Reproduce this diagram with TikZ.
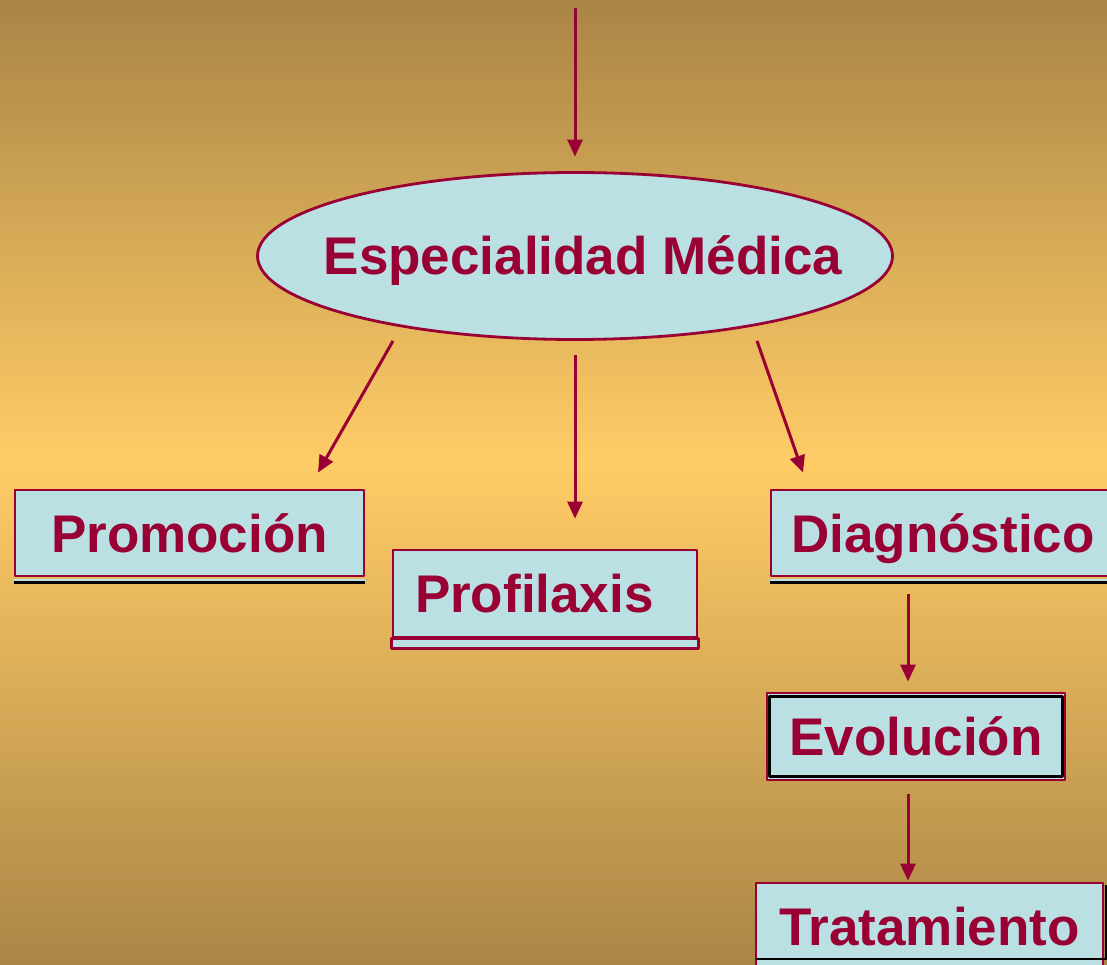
\documentclass[tikz,border=0pt]{standalone}
\usepackage{fontspec}
\setmainfont{Liberation Sans}
\usetikzlibrary{arrows.meta,shapes.geometric}
\definecolor{granate}{HTML}{990033}
\definecolor{celeste}{HTML}{BBE0E3}
\definecolor{oroosc}{HTML}{A98546}
\definecolor{oroclaro}{HTML}{FFCC66}
\tikzset{
  caja/.style={draw=granate, fill=celeste, line width=2.8pt, inner sep=0pt,
    text=granate, font=\bfseries\fontsize{53}{60}\selectfont,
    text height=38pt, text depth=0pt},
  elipse/.style={caja, ellipse, minimum width=635pt, minimum height=167pt},
  flecha/.style={draw=granate, line width=3pt, -{Triangle[length=17pt,width=15pt]}}
}
\begin{document}
\begin{tikzpicture}[x=1pt, y=-1pt, line join=round]
	\useasboundingbox (0,0) rectangle (1107,965);
	% fondo degradado
	\foreach \i in {0,...,192}{
		\pgfmathsetmacro{\yy}{\i*5}
		\pgfmathsetmacro{\p}{\yy<460 ? \yy/4.6 : (965-\yy)/5.05}
		\fill[oroclaro!\p!oroosc] (0,\yy) rectangle (1107,\yy+5.6);
	}
	\clip (0,0) rectangle (1107,965);
	% nodos
	\node[elipse] (esp) at (575,256) {\makebox[0pt]{\hspace*{16pt}Especialidad Médica}};
	\node[caja, minimum width=349pt, minimum height=86pt] (prom) at (189.5,533) {Promoción};
	\node[caja, text width=260pt, align=left, inner xsep=22pt, minimum height=87pt] (prof) at (545,593.5) {Profilaxis};
	\node[caja, minimum width=344pt, minimum height=86pt] (diag) at (943,533) {Diagnóstico};
	\node[caja, minimum width=298pt, minimum height=87pt] (evo) at (916,736.5) {Evolución};
	\node[caja, minimum width=347pt, minimum height=86pt] (trat) at (929.5,926) {Tratamiento};
	% bordes inferiores
	\fill[celeste] ([yshift=-1.4pt]prom.south west) rectangle ([yshift=-5pt]prom.south east);
	\draw[black, line width=2.5pt] ([yshift=-5pt]prom.south west) -- ([yshift=-5pt]prom.south east);
	\fill[celeste] ([yshift=-1.4pt]diag.south west) rectangle ([yshift=-5pt]diag.south east);
	\draw[black, line width=2.5pt] ([yshift=-5pt]diag.south west) -- ([yshift=-5pt]diag.south east);
	\draw[granate, fill=celeste, line width=2.8pt] (prof.south west) rectangle ([yshift=-10pt]prof.south east);
	\draw[black, line width=2.8pt] ([shift={(4,5)}]evo.north west) rectangle ([shift={(-4,-5)}]evo.south east);
	\draw[black, line width=2.5pt] ([shift={(1,33)}]trat.west) -- ([shift={(2,33)}]trat.east) -- ([shift={(2,-41)}]trat.east);
	% flechas
	\coordinate (arriba) at (575,8);
	\draw[flecha] (arriba) -- ([yshift=14.5pt]esp.north);
	\draw[flecha] ([xshift=-182pt]esp.south) -- ([shift={(128.5,-16)}]prom.north);
	\draw[flecha] ([yshift=-14.5pt]esp.south) -- ([shift={(30,-30)}]prof.north);
	\draw[flecha] ([xshift=182pt]esp.south) -- ([shift={(-140,-16)}]diag.north);
	\draw[flecha] ([shift={(-35,17)}]diag.south) -- ([shift={(-8,-10)}]evo.north);
	\draw[flecha] ([shift={(-8,13)}]evo.south) -- ([shift={(-21.5,-1)}]trat.north);
\end{tikzpicture}
\end{document}
